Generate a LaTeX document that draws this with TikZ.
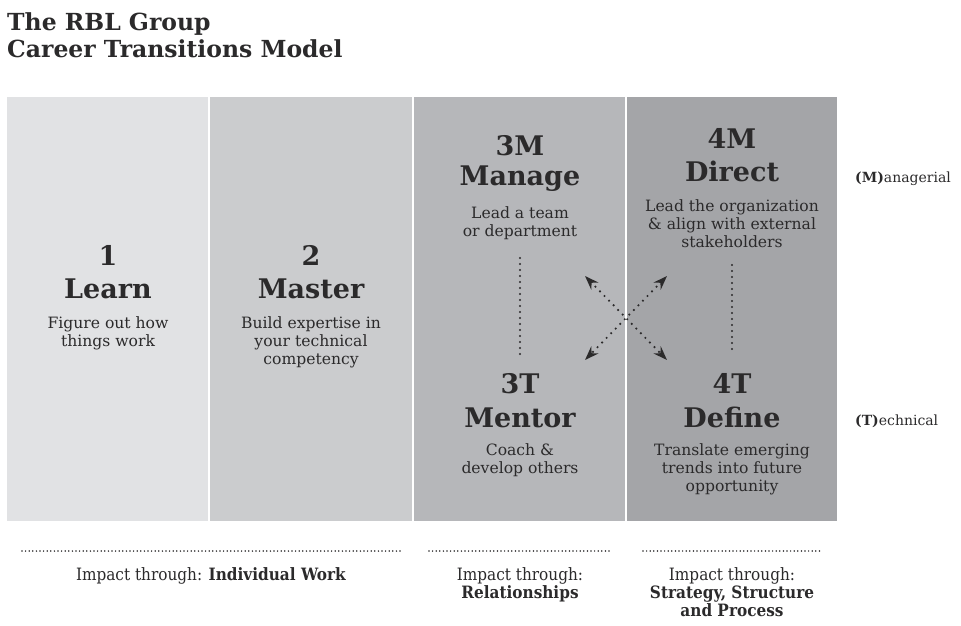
\documentclass[tikz,border=0pt]{standalone}
\usepackage{fontspec}
\setmainfont{DejaVu Serif}
\newfontfamily\condfont{DejaVu Serif Condensed}
\usepackage{tikz}
\usetikzlibrary{positioning}
\usetikzlibrary{arrows.meta}
\definecolor{inkgray}{HTML}{2B2A2B}
\definecolor{panelA}{HTML}{E1E2E4}
\definecolor{panelB}{HTML}{CBCCCE}
\definecolor{panelC}{HTML}{B6B7BA}
\definecolor{panelD}{HTML}{A4A5A8}

\begin{document}
\begin{tikzpicture} [x=1pt,y=-1pt,
            panel/.style={rectangle,inner sep=0,minimum height=424pt},
            headtxt/.style={anchor=base,inner sep=0,text=inkgray,font=\bfseries\fontsize{27}{30}\selectfont},
            desctxt/.style={anchor=base,inner sep=0,text=inkgray,align=center,font=\fontsize{15.6}{18}\selectfont},
            impact/.style={anchor=base,inner sep=0,text=inkgray,align=center,font=\condfont\fontsize{17}{18}\selectfont},
            sidetxt/.style={anchor=base west,inner sep=0,text=inkgray,font=\fontsize{14}{18}\selectfont},
            dotline/.style={inkgray,line width=2.2pt,line cap=round,dash pattern=on 0pt off 6pt},
            xarrow/.style={{Stealth[length=14pt,width=10pt]}-{Stealth[length=14pt,width=10pt]},inkgray,line width=2.4pt,line cap=round,dash pattern=on 0pt off 6.5pt}]
\useasboundingbox (0,0) rectangle (961,626);
%\tikzstyle{every node}=[draw,rectangle]
\node (title) at (7,58) [anchor=base west,inner sep=0,text=inkgray,align=left,font=\bfseries\fontsize{23.5}{28}\selectfont] {The RBL Group\\Career Transitions Model}
node (p1) at (107.5,309) [panel,fill=panelA,minimum width=201pt] {}
node (p2) at (311,309) [panel,fill=panelB,minimum width=202pt] {}
node (p3) at (519.5,309) [panel,fill=panelC,minimum width=211pt] {}
node (p4) at (732,309) [panel,fill=panelD,minimum width=210pt] {}
;
% stages
\node (n1) at (108,265) [headtxt] {1}
node (t1) at (108,298) [headtxt] {Learn}
node (d1) at (108,346) [desctxt] {Figure out how\\things work}
node (n2) at (311,265) [headtxt] {2}
node (t2) at (311,298) [headtxt] {Master}
node (d2) at (311,364) [desctxt] {Build expertise in\\your technical\\competency}
node (n3m) at (520,155) [headtxt] {3M}
node (t3m) at (520,185) [headtxt] {Manage}
node (d3m) at (520,236) [desctxt] {Lead a team\\or department}
node (n4m) at (732,148) [headtxt] {4M}
node (t4m) at (732,181) [headtxt] {Direct}
node (d4m) at (732,247) [desctxt] {Lead the organization\\\& align with external\\stakeholders}
node (n3t) at (520,393) [headtxt] {3T}
node (t3t) at (520,427) [headtxt] {Mentor}
node (d3t) at (520,473) [desctxt] {Coach \&\\develop others}
node (n4t) at (732,393) [headtxt] {4T}
node (t4t) at (732,427) [headtxt] {Define}
node (d4t) at (732,491) [desctxt] {Translate emerging\\trends into future\\opportunity}
node (mgr) at (855,182) [sidetxt] {\textbf{(M)}anagerial}
node (tec) at (855,425) [sidetxt] {\textbf{(T)}echnical}
;
\coordinate (x1) at (585,276);
\coordinate (x2) at (667,360);
\coordinate (x3) at (667,276);
\coordinate (x4) at (585,360);
\draw [dotline] (d3m.south |- 0,258) -- (n3t.north |- 0,355);
\draw [dotline] (d4m.south |- 0,265) -- (n4t.north |- 0,352);
\draw [xarrow] (x1) -- (x2);
\draw [xarrow] (x3) -- (x4);
% impact
\coordinate (a1) at (22,551);
\coordinate (b1) at (402,551);
\coordinate (a2) at (429,551);
\coordinate (b2) at (612,551);
\coordinate (a3) at (643,551);
\coordinate (b3) at (823,551);
\draw [dotline,line width=1.7pt,dash pattern=on 0pt off 3.6pt] (a1) -- (b1);
\draw [dotline,line width=1.7pt,dash pattern=on 0pt off 3.6pt] (a2) -- (b2);
\draw [dotline,line width=1.7pt,dash pattern=on 0pt off 3.6pt] (a3) -- (b3);
\node (i1) at (211,580) [impact] {Impact through: \textbf{Individual Work}}
node (i2) at (520,598) [impact] {Impact through:\\\textbf{Relationships}}
node (i3) at (732,616) [impact] {Impact through:\\\textbf{Strategy, Structure}\\\textbf{and Process}};
\end{tikzpicture}
\end{document}
